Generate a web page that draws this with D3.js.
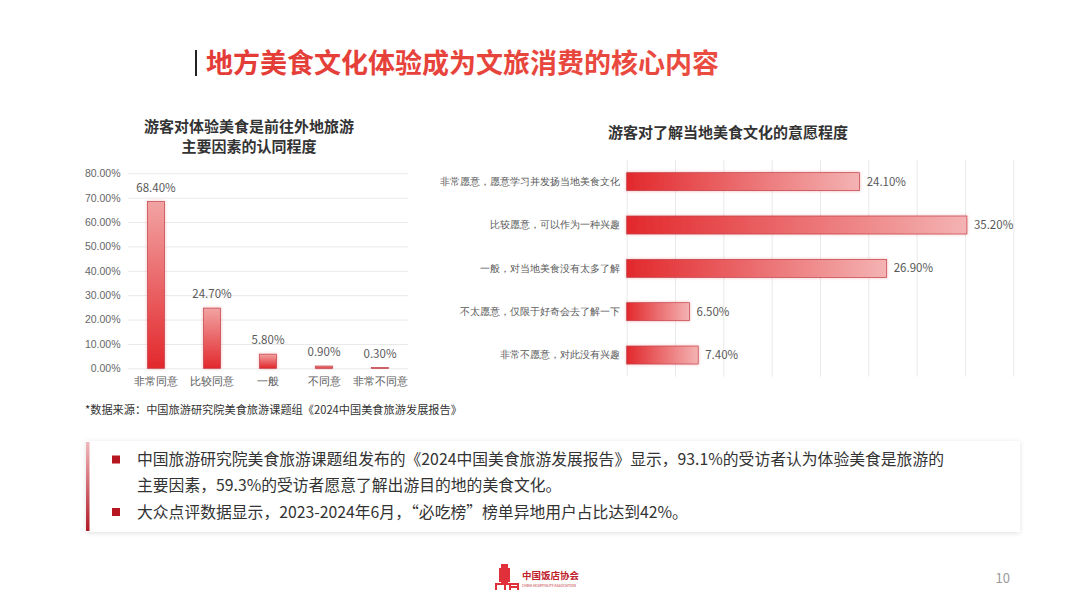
<!DOCTYPE html>
<html><head><meta charset="utf-8">
<script src="https://cdn.jsdelivr.net/npm/d3@7/dist/d3.min.js"></script>
<style>
html,body{margin:0;padding:0;background:#fff;}
svg{display:block;font-family:"Noto Sans CJK SC","Noto Sans",sans-serif;}
</style></head><body>
<svg id="c" width="1080" height="608"></svg>
<script>
// ---------- data ----------
const mainTitle = "地方美食文化体验成为文旅消费的核心内容";
const leftTitle = ["游客对体验美食是前往外地旅游", "主要因素的认同程度"];
const leftCats = ["非常同意", "比较同意", "一般", "不同意", "非常不同意"];
const leftVals = [68.4, 24.7, 5.8, 0.9, 0.3];
const leftTicks = [0, 10, 20, 30, 40, 50, 60, 70, 80];

const rightTitle = "游客对了解当地美食文化的意愿程度";
const rightCats = ["非常愿意，愿意学习并发扬当地美食文化", "比较愿意，可以作为一种兴趣", "一般，对当地美食没有太多了解", "不太愿意，仅限于好奇会去了解一下", "非常不愿意，对此没有兴趣"];
const rightVals = [24.1, 35.2, 26.9, 6.5, 7.4];
const rightTicks = [0, 5, 10, 15, 20, 25, 30, 35, 40];

const sourceNote = "*数据来源：中国旅游研究院美食旅游课题组《2024中国美食旅游发展报告》";
const bullets = [
  ["中国旅游研究院美食旅游课题组发布的《2024中国美食旅游发展报告》显示，93.1%的受访者认为体验美食是旅游的", "主要因素，59.3%的受访者愿意了解出游目的地的美食文化。"],
  ["大众点评数据显示，2023-2024年6月，“必吃榜”榜单异地用户占比达到42%。"]
];
const pageNum = "10";

// ---------- drawing ----------
const svg = d3.select("#c");
const defs = svg.append("defs");

const gV = defs.append("linearGradient").attr("id","gV").attr("x1",0).attr("y1",0).attr("x2",0).attr("y2",1);
gV.append("stop").attr("offset","0%").attr("stop-color","#f2a3a3");
gV.append("stop").attr("offset","100%").attr("stop-color","#e2282c");
const gH = defs.append("linearGradient").attr("id","gH").attr("x1",0).attr("y1",0).attr("x2",1).attr("y2",0);
gH.append("stop").attr("offset","0%").attr("stop-color","#e2282c");
gH.append("stop").attr("offset","100%").attr("stop-color","#f4b3b3");
const gT = defs.append("linearGradient").attr("id","gT").attr("x1",0).attr("y1",0).attr("x2",1).attr("y2",0);
gT.append("stop").attr("offset","0%").attr("stop-color","#e33b37");
gT.append("stop").attr("offset","100%").attr("stop-color","#ea4c40");
const gL = defs.append("linearGradient").attr("id","gL").attr("x1",0).attr("y1",0).attr("x2",0).attr("y2",1);
gL.append("stop").attr("offset","0%").attr("stop-color","#f0b8bc");
gL.append("stop").attr("offset","100%").attr("stop-color","#b01a26");

const glow = defs.append("filter").attr("id","glow").attr("x","-50%").attr("y","-50%").attr("width","200%").attr("height","200%");
glow.append("feDropShadow").attr("dx",0).attr("dy",0).attr("stdDeviation",1.6).attr("flood-color","#e03030").attr("flood-opacity",0.35);
const shadow = defs.append("filter").attr("id","shadow").attr("x","-5%").attr("y","-20%").attr("width","110%").attr("height","140%");
shadow.append("feDropShadow").attr("dx",0).attr("dy",1).attr("stdDeviation",2.5).attr("flood-color","#000").attr("flood-opacity",0.12);

// main title
svg.append("rect").attr("x",195).attr("y",50).attr("width",2).attr("height",26).attr("fill","#222");
svg.append("text").attr("x",206).attr("y",63).attr("dy","0.36em")
  .attr("font-size",27).attr("font-weight","bold").attr("fill","url(#gT)").text(mainTitle);

// ---- left chart ----
const L = {x0:128, x1:408, y0:368.3, y1:173.3};
const lx = d3.scaleBand().domain(leftCats).range([L.x0, L.x1]).padding(0);
const ly = d3.scaleLinear().domain([0,80]).range([L.y0, L.y1]);

svg.append("g").selectAll("text").data(leftTitle).join("text")
  .attr("x",249).attr("y",(d,i)=>127+i*19.5).attr("dy","0.36em").attr("text-anchor","middle")
  .attr("font-size",15).attr("font-weight","bold").attr("fill","#333").text(d=>d);

const lyAxis = svg.append("g").attr("transform",`translate(${L.x0},0)`)
  .call(d3.axisLeft(ly).tickValues(leftTicks).tickFormat(d=>d.toFixed(2)+"%").tickSize(-(L.x1-L.x0)).tickPadding(7.5));
lyAxis.select(".domain").remove();
lyAxis.selectAll(".tick line").attr("stroke","#e9e9e9");
lyAxis.selectAll("text").attr("fill","#666").attr("font-size",10.5).attr("font-family","inherit");

const lxAxis = svg.append("g").attr("transform",`translate(0,${L.y0})`)
  .call(d3.axisBottom(lx).tickSize(0).tickPadding(9));
lxAxis.select(".domain").remove();
lxAxis.selectAll("text").attr("fill","#595959").attr("font-size",10.5).attr("font-family","inherit");

const lbw = 17;
svg.append("g").selectAll("rect").data(leftVals).join("rect")
  .attr("x",(d,i)=>lx(leftCats[i])+lx.bandwidth()/2-lbw/2)
  .attr("y",d=>ly(d)).attr("width",lbw).attr("height",d=>ly(0)-ly(d))
  .attr("fill","url(#gV)").attr("stroke","#c0404a").attr("stroke-width",0.7).attr("filter","url(#glow)");
svg.append("g").selectAll("text").data(leftVals).join("text")
  .attr("x",(d,i)=>lx(leftCats[i])+lx.bandwidth()/2).attr("y",d=>ly(d)-10)
  .attr("text-anchor","middle").attr("font-size",11.5).attr("fill","#595959").text(d=>d.toFixed(2)+"%");

// ---- right chart ----
const R = {x0:626.7, x1:1013.3, y0:160, y1:376.7};
const rx = d3.scaleLinear().domain([0,40]).range([R.x0, R.x1]);
const ry = d3.scaleBand().domain(rightCats).range([R.y0, R.y1]).padding(0);

svg.append("text").attr("x",728).attr("y",133).attr("dy","0.36em").attr("text-anchor","middle")
  .attr("font-size",15).attr("font-weight","bold").attr("fill","#333").text(rightTitle);

const rxAxis = svg.append("g").attr("transform",`translate(0,${R.y1})`)
  .call(d3.axisBottom(rx).tickValues(rightTicks).tickSize(-(R.y1-R.y0)).tickFormat(""));
rxAxis.select(".domain").remove();
rxAxis.selectAll(".tick line").attr("stroke","#e9e9e9");

const ryAxis = svg.append("g").attr("transform",`translate(${R.x0},0)`)
  .call(d3.axisLeft(ry).tickSize(0).tickPadding(6.7));
ryAxis.select(".domain").remove();
ryAxis.selectAll("text").attr("fill","#595959").attr("font-size",10.2).attr("font-family","inherit");

const rbh = 18;
svg.append("g").selectAll("rect").data(rightVals).join("rect")
  .attr("x",rx(0)).attr("y",(d,i)=>ry(rightCats[i])+ry.bandwidth()/2-rbh/2)
  .attr("width",d=>rx(d)-rx(0)).attr("height",rbh)
  .attr("fill","url(#gH)").attr("stroke","#c0404a").attr("stroke-width",0.7).attr("filter","url(#glow)");
svg.append("g").selectAll("text").data(rightVals).join("text")
  .attr("x",d=>rx(d)+7).attr("y",(d,i)=>ry(rightCats[i])+ry.bandwidth()/2).attr("dy","0.36em")
  .attr("font-size",11.5).attr("fill","#595959").text(d=>d.toFixed(2)+"%");

// source note
svg.append("text").attr("x",85).attr("y",410).attr("dy","0.36em").attr("font-size",11.2).attr("fill","#333").text(sourceNote);

// bottom box
svg.append("rect").attr("x",86).attr("y",441).attr("width",934).attr("height",91).attr("fill","#fff").attr("filter","url(#shadow)");
svg.append("rect").attr("x",86).attr("y",442).attr("width",3.5).attr("height",89).attr("fill","url(#gL)");
const lineYs = [[459.5, 485], [512]];
bullets.forEach((b,i)=>{
  svg.append("rect").attr("x",112).attr("y",lineYs[i][0]-4).attr("width",8).attr("height",8).attr("fill","#b5161f");
  b.forEach((t,j)=>{
    svg.append("text").attr("x",137).attr("y",lineYs[i][j]).attr("dy","0.36em").attr("font-size",15.8).attr("fill","#333").text(t);
  });
});

// logo
const logo = svg.append("g").attr("transform","translate(496,564)");
logo.append("rect").attr("x",5).attr("y",0).attr("width",7).attr("height",20).attr("fill","#e0313a");
logo.append("rect").attr("x",3).attr("y",4).attr("width",2).attr("height",14).attr("fill","#e0313a");
logo.append("rect").attr("x",12).attr("y",4).attr("width",2).attr("height",14).attr("fill","#e0313a");
logo.append("path").attr("d","M0,26 L0,20 L9,20 M9,26 L9,20 L14,20 M14,26 L14,20 L22,20 L22,26 M14,23 L22,23").attr("fill","none").attr("stroke","#e0313a").attr("stroke-width",2);
logo.append("text").attr("x",26).attr("y",12).attr("dy","0.36em").attr("font-size",9.5).attr("fill","#c0202a").attr("font-weight","bold").text("中国饭店协会");
logo.append("text").attr("x",26).attr("y",23).attr("font-size",3.4).attr("fill","#c0202a").text("CHINA HOSPITALITY ASSOCIATION");

svg.append("text").attr("x",1010).attr("y",578).attr("dy","0.36em").attr("text-anchor","end").attr("font-size",13).attr("fill","#9a9a9a").text(pageNum);
</script>
</body></html>
